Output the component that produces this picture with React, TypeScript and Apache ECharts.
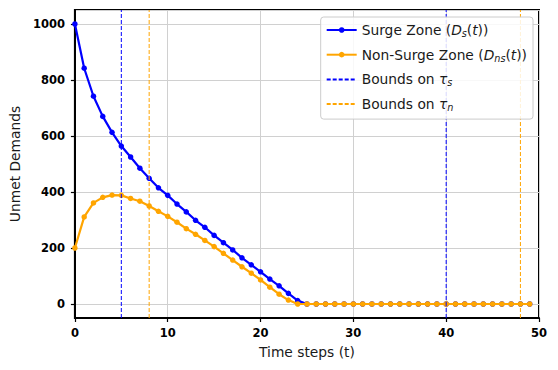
import React, { useEffect, useRef } from "react";
import * as echarts from "echarts";

const timeSteps = Array.from({ length: 50 }, (_, i) => i);
const surgeValues = [
  1000, 842, 742, 670, 613, 564, 525, 485, 449, 415,
  388, 357, 329, 299, 274, 245, 219, 193, 165, 140,
  115, 89, 65, 38, 12, 0, 0, 0, 0, 0,
  0, 0, 0, 0, 0, 0, 0, 0, 0, 0,
  0, 0, 0, 0, 0, 0, 0, 0, 0, 0,
];
const nonSurgeValues = [
  200, 311, 361, 381, 389, 388, 377, 367, 350, 331,
  313, 292, 269, 249, 227, 205, 181, 157, 133, 110,
  86, 60, 35, 14, 0, 0, 0, 0, 0, 0,
  0, 0, 0, 0, 0, 0, 0, 0, 0, 0,
  0, 0, 0, 0, 0, 0, 0, 0, 0, 0,
];
const surgeBounds = [5, 40];
const nonSurgeBounds = [8, 48];
const xTicks = [0, 10, 20, 30, 40, 50];
const yTicks = [0, 200, 400, 600, 800, 1000];
const yMin = -50;
const yMax = 1050;

const BLUE = "#0000ff";
const ORANGE = "#ffa500";
const FONT = "DejaVu Sans";
const TXT = "#1a1a1a";

export default function App() {
  const ref = useRef<HTMLDivElement>(null);
  useEffect(() => {
    if (!ref.current) return;
    const chart = echarts.init(ref.current, undefined, { renderer: "svg" });
    const legendText: Record<string, string> = {
      "Surge Zone": "Surge Zone ({i|D}{sub|s}({i|t}))",
      "Non-Surge Zone": "Non-Surge Zone ({i|D}{sub|ns}({i|t}))",
      "Bounds on τs": "Bounds on {i|τ}{sub|s}",
      "Bounds on τn": "Bounds on {i|τ}{sub|n}",
    };
    const hiddenSymbol = { color: "rgba(0,0,0,0)", borderWidth: 0 };
    const boundSeries = (name: string, x: number, color: string) => ({
      name,
      type: "line",
      data: [
        [x, yMin],
        [x, yMax],
      ],
      symbol: "none",
      silent: true,
      itemStyle: { color },
      lineStyle: { color, width: 1, type: [4, 2] },
      z: 5,
    });
    chart.setOption({
      animation: false,
      textStyle: { fontFamily: FONT },
      grid: {
        left: 74,
        right: 19,
        top: 10,
        bottom: 52,
        show: true,
        borderColor: "#000",
        borderWidth: 2,
        backgroundColor: "transparent",
      },
      legend: {
        orient: "vertical",
        right: 25,
        top: 17,
        itemWidth: 30,
        itemHeight: 7,
        itemGap: 7.7,
        padding: [4.5, 6, 6.5, 5],
        backgroundColor: "rgba(255,255,255,0.85)",
        borderColor: "#cccccc",
        borderWidth: 1,
        borderRadius: 3,
        z: 10,
        data: [
          { name: "Surge Zone" },
          { name: "Non-Surge Zone" },
          { name: "Bounds on τs", itemStyle: hiddenSymbol },
          { name: "Bounds on τn", itemStyle: hiddenSymbol },
        ],
        formatter: (name: string) => legendText[name] || name,
        textStyle: {
          fontFamily: FONT,
          fontSize: 13.8,
          lineHeight: 17,
          color: TXT,
          rich: {
            i: { fontFamily: FONT, fontSize: 13.8, lineHeight: 17, fontStyle: "italic", color: TXT },
            sub: {
              fontFamily: FONT,
              fontSize: 9.7,
              lineHeight: 11,
              fontStyle: "italic",
              color: TXT,
              verticalAlign: "bottom",
            },
          },
        },
      },
      xAxis: {
        type: "value",
        min: 0,
        max: 50,
        interval: 10,
        name: "Time steps (t)",
        nameLocation: "middle",
        nameGap: 27,
        nameTextStyle: { fontFamily: FONT, fontSize: 13.8, color: TXT },
        axisLine: { show: true, onZero: false, lineStyle: { color: "#000", width: 2 } },
        axisTick: { show: true, length: 4, lineStyle: { color: "#000", width: 1.2 } },
        axisLabel: {
          fontFamily: FONT,
          fontSize: 11.5,
          fontWeight: "bold",
          color: "#000",
          margin: 9,
          formatter: (v: number) => (xTicks.includes(v) ? String(v) : ""),
        },
        splitLine: { show: true, lineStyle: { color: "#d0d0d0", width: 1 } },
      },
      yAxis: {
        type: "value",
        min: yMin,
        max: yMax,
        splitNumber: 5,
        name: "Unmet Demands",
        nameLocation: "middle",
        nameGap: 50,
        nameTextStyle: { fontFamily: FONT, fontSize: 13.8, color: TXT },
        axisLine: { show: true, onZero: false, lineStyle: { color: "#000", width: 2 } },
        axisTick: { show: true, length: 4, lineStyle: { color: "#000", width: 1.2 } },
        axisLabel: {
          fontFamily: FONT,
          fontSize: 11.5,
          fontWeight: "bold",
          color: "#000",
          margin: 10,
          showMinLabel: false,
          showMaxLabel: false,
          formatter: (v: number) => (yTicks.includes(v) ? String(v) : ""),
        },
        splitLine: { show: true, lineStyle: { color: "#d0d0d0", width: 1 } },
      },
      series: [
        {
          name: "Surge Zone",
          type: "line",
          data: timeSteps.map((t, i) => [t, surgeValues[i]]),
          symbol: "circle",
          symbolSize: 5.5,
          showSymbol: true,
          itemStyle: { color: BLUE },
          lineStyle: { color: BLUE, width: 2.2 },
          z: 3,
        },
        {
          name: "Non-Surge Zone",
          type: "line",
          data: timeSteps.map((t, i) => [t, nonSurgeValues[i]]),
          symbol: "circle",
          symbolSize: 5.5,
          showSymbol: true,
          itemStyle: { color: ORANGE },
          lineStyle: { color: ORANGE, width: 2.2 },
          z: 4,
        },
        ...surgeBounds.map((x) => boundSeries("Bounds on τs", x, BLUE)),
        ...nonSurgeBounds.map((x) => boundSeries("Bounds on τn", x, ORANGE)),
      ],
    });
    return () => chart.dispose();
  }, []);
  return (
    <div
      ref={ref}
      style={{ position: "absolute", left: 0, top: 0, width: 558, height: 370 }}
    />
  );
}
